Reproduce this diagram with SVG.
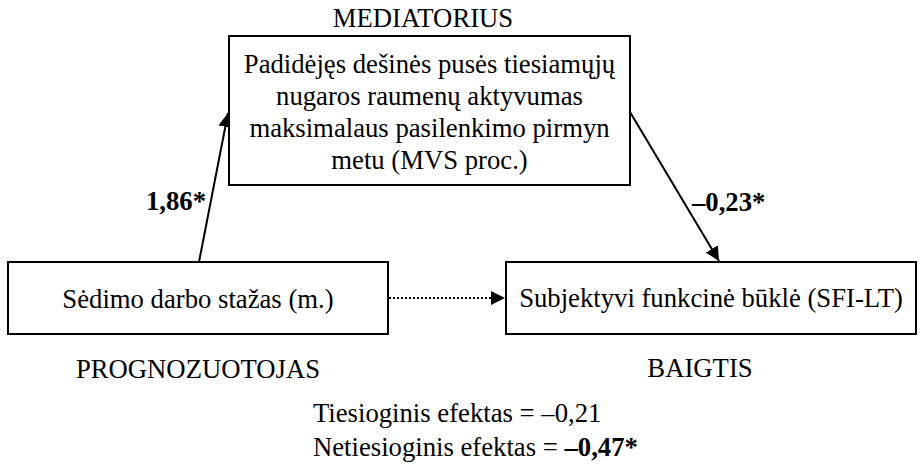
<svg xmlns="http://www.w3.org/2000/svg" width="924" height="464" viewBox="0 0 924 464">
  <style>
    .box { fill: #ffffff; stroke: #000000; stroke-width: 2; }
    .txt { font-family: "Liberation Serif", "Times New Roman", serif; font-size: 26.7px; fill: #000000; }
    .mid { text-anchor: middle; }
    .bold { font-weight: bold; }
    .edge { stroke: #000000; stroke-width: 2; fill: none; }
    .dotted { stroke-dasharray: 2 2; }
  </style>
  <defs>
    <marker id="arrowBig" viewBox="0 0 10 10" refX="10" refY="5" markerWidth="7" markerHeight="7" orient="auto">
      <path d="M0,0 L10,5 L0,10 Z" fill="#000000"/>
    </marker>
  </defs>

  <!-- connectors -->
  <g id="connectors">
    <line class="edge" x1="199" y1="262" x2="228" y2="113" marker-end="url(#arrowBig)"/>
    <line class="edge" x1="630" y1="112" x2="719" y2="261" marker-end="url(#arrowBig)"/>
    <line class="edge dotted" x1="389" y1="298" x2="505" y2="298" marker-end="url(#arrowBig)"/>
    <text class="txt bold" x="146" y="210">1,86*</text>
    <text class="txt bold" x="692" y="211">–0,23*</text>
  </g>

  <!-- mediator -->
  <g id="mediator">
    <text class="txt mid" x="423" y="27">MEDIATORIUS</text>
    <rect class="box" x="229" y="36" width="401" height="149"/>
    <text class="txt mid" x="429.5" y="73">Padidėjęs dešinės pusės tiesiamųjų</text>
    <text class="txt mid" x="429.5" y="105">nugaros raumenų aktyvumas</text>
    <text class="txt mid" x="429.5" y="137">maksimalaus pasilenkimo pirmyn</text>
    <text class="txt mid" x="429.5" y="169">metu (MVS proc.)</text>
  </g>

  <!-- predictor -->
  <g id="predictor">
    <rect class="box" x="8" y="262" width="380" height="72"/>
    <text class="txt mid" x="198" y="308">Sėdimo darbo stažas (m.)</text>
    <text class="txt mid" x="198" y="378">PROGNOZUOTOJAS</text>
  </g>

  <!-- outcome -->
  <g id="outcome">
    <rect class="box" x="506" y="262" width="410" height="72"/>
    <text class="txt mid" x="711" y="307">Subjektyvi funkcinė būklė (SFI-LT)</text>
    <text class="txt mid" x="700" y="377">BAIGTIS</text>
  </g>

  <!-- effects summary -->
  <g id="effects">
    <text class="txt" x="313" y="422">Tiesioginis efektas = –0,21</text>
    <text class="txt" x="313" y="456">Netiesioginis efektas = <tspan class="bold">–0,47*</tspan></text>
  </g>
</svg>
